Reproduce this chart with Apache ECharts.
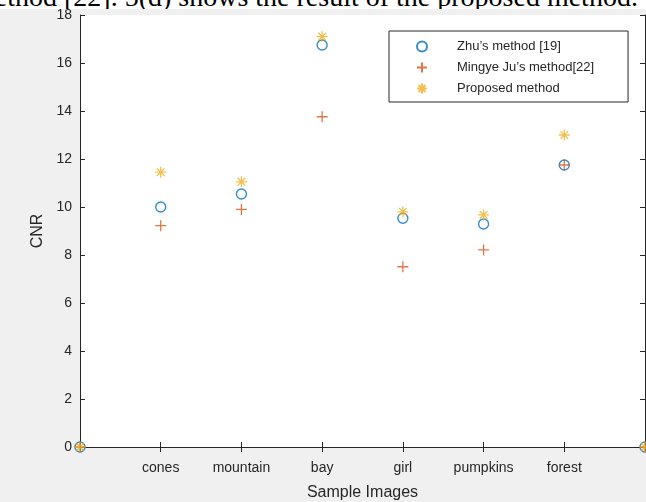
<!DOCTYPE html>
<html>
<head>
<meta charset="utf-8">
<script src="https://cdn.jsdelivr.net/npm/echarts@6/dist/echarts.min.js"></script>
<style>
  html, body { margin: 0; padding: 0; background: #f0f0f0; }
  #chart { position: absolute; left: 0; top: 0; width: 646px; height: 502px; }
  #caption {
    position: absolute; left: 0; top: 0; width: 646px; height: 9px;
    overflow: hidden; background: #fff; z-index: 2;
  }
  #caption span {
    position: absolute; left: -27px; top: -17px; white-space: nowrap;
    font-family: "Liberation Serif", "Times New Roman", serif;
    font-size: 28px; line-height: 28px; color: #000;
  }
</style>
</head>
<body>
<div id="chart"></div>
<div id="caption"><span>method [22]. 5(d) shows the result of the proposed method.</span></div>
<script>
// Sample images along the x axis (blank slots at both ends)
const categories = ['', 'cones', 'mountain', 'bay', 'girl', 'pumpkins', 'forest', ''];
// CNR for each method
const zhuValues      = [0, 10.0, 10.54, 16.75, 9.53, 9.29, 11.75, 0];
const juValues       = [0, 9.22, 9.9, 13.76, 7.51, 8.21, 11.75, 0];
const proposedValues = [0, 11.45, 11.05, 17.1, 9.8, 9.67, 13.0, 0];
const yTicks = [0, 2, 4, 6, 8, 10, 12, 14, 16, 18];

const axisColor = '#262626';
const textFont = '"Liberation Sans", Arial, sans-serif';

const plusPath = 'path://M0,-5L0,5M-5,0L5,0';
const starPath = 'path://M0,-5L0,5M-5,0L5,0M-3.5,-3.5L3.5,3.5M-3.5,3.5L3.5,-3.5';

const chart = echarts.init(document.getElementById('chart'), null, { renderer: 'canvas' });

const baseX = {
  type: 'category', data: categories, boundaryGap: false,
  axisLine: { lineStyle: { color: axisColor, width: 1 } },
  axisTick: { inside: true, length: 5, lineStyle: { color: axisColor } },
  splitLine: { show: false }
};
const baseY = {
  type: 'value', min: yTicks[0], max: yTicks[yTicks.length - 1], interval: 2,
  axisLine: { show: true, lineStyle: { color: axisColor, width: 1 } },
  axisTick: { show: true, inside: true, length: 5, lineStyle: { color: axisColor } },
  splitLine: { show: false }
};

chart.setOption({
  backgroundColor: '#f0f0f0',
  animation: false,
  grid: {
    left: 80, right: 1, top: 15, bottom: 55,
    containLabel: false, outerBoundsMode: 'none',
    show: true, backgroundColor: '#ffffff', borderWidth: 0
  },
  legend: {
    orient: 'vertical', left: 389, top: 31,
    padding: [9, 34, 7, 27], itemGap: 8,
    itemWidth: 60, itemHeight: 10,
    backgroundColor: '#ffffff', borderColor: axisColor, borderWidth: 1,
    textStyle: { fontFamily: textFont, fontSize: 13, color: axisColor },
    data: ['Zhu’s method [19]', 'Mingye Ju’s method[22]', 'Proposed method']
  },
  xAxis: [
    Object.assign({}, baseX, {
      position: 'bottom',
      name: 'Sample Images', nameLocation: 'middle', nameGap: 38,
      nameTextStyle: { fontFamily: textFont, fontSize: 16, color: axisColor },
      axisLabel: { margin: 14, fontFamily: textFont, fontSize: 14, color: axisColor }
    }),
    Object.assign({}, baseX, {
      position: 'top', axisLabel: { show: false }
    })
  ],
  yAxis: [
    Object.assign({}, baseY, {
      position: 'left',
      name: 'CNR', nameLocation: 'middle', nameGap: 32,
      nameTextStyle: { fontFamily: textFont, fontSize: 16, color: axisColor },
      axisLabel: { margin: 8, fontFamily: textFont, fontSize: 14, color: axisColor }
    }),
    Object.assign({}, baseY, {
      position: 'right', axisLabel: { show: false }
    })
  ],
  series: [
    {
      name: 'Zhu’s method [19]', type: 'scatter', data: zhuValues, clip: false,
      symbol: 'circle', symbolSize: 10,
      itemStyle: { color: 'rgba(0,0,0,0)', borderColor: '#0072BD', borderWidth: 1.4 }
    },
    {
      name: 'Mingye Ju’s method[22]', type: 'scatter', data: juValues, clip: false,
      symbol: plusPath, symbolSize: 11,
      itemStyle: { color: 'rgba(0,0,0,0)', borderColor: '#D95319', borderWidth: 1.3 }
    },
    {
      name: 'Proposed method', type: 'scatter', data: proposedValues, clip: false,
      symbol: starPath, symbolSize: 11,
      itemStyle: { color: 'rgba(0,0,0,0)', borderColor: '#EDB120', borderWidth: 1.3 }
    }
  ]
});
</script>
</body>
</html>
